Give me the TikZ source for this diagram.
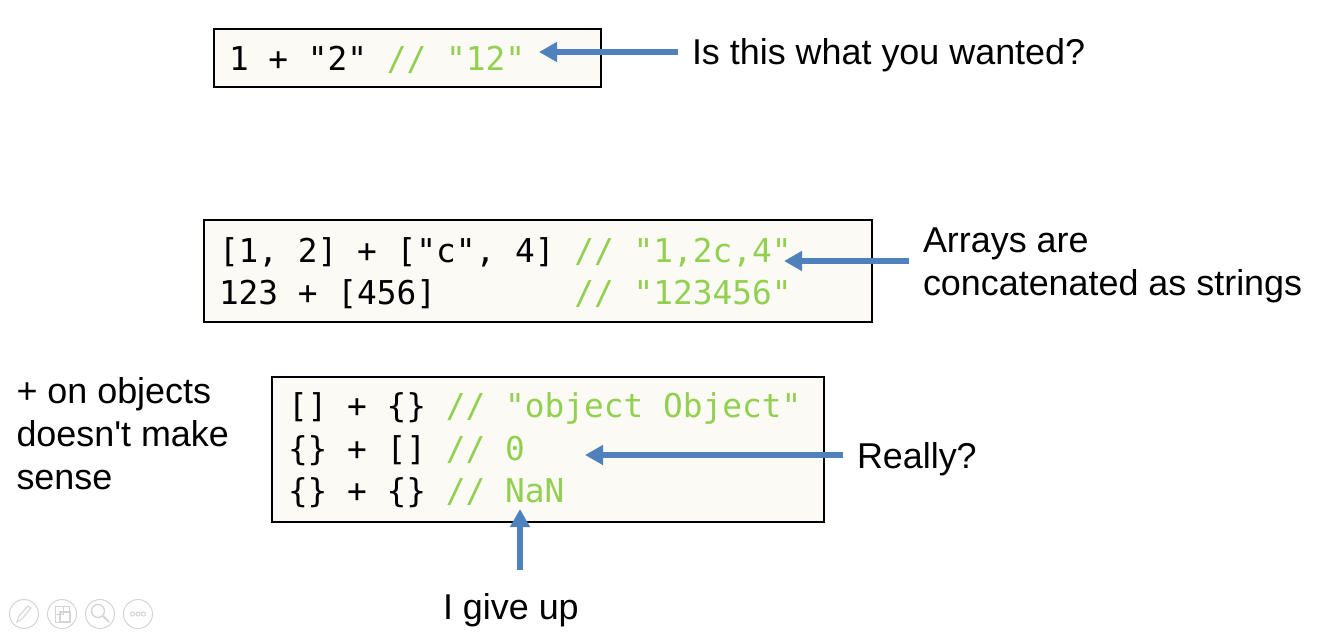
\documentclass[tikz,border=0pt]{standalone}
\usepackage{fontspec}
\setmainfont{Liberation Sans}
\newfontfamily\codefont{DejaVu Sans Mono}
\usetikzlibrary{arrows.meta}
\definecolor{boxfill}{HTML}{FBFAF5}
\definecolor{arrowblue}{HTML}{4F81BD}
\definecolor{commentgreen}{HTML}{92D050}
\definecolor{icongray}{HTML}{D4D4D4}
\newcommand{\cmt}[1]{\textcolor{commentgreen}{#1}}
\tikzset{
 x=1pt,y=-1pt,
 codebox/.style={draw=black,line width=2pt,fill=boxfill,rectangle,minimum width=0pt},
 codeline/.style={anchor=base west,inner sep=0pt,outer sep=0pt,font=\codefont\fontsize{32.8}{42}\selectfont},
 saying/.style={anchor=base west,inner sep=0pt,outer sep=0pt,font=\fontsize{35.9}{43}\selectfont},
 pointer/.style={draw=arrowblue,line width=5.5pt,-{Triangle[length=18pt,width=19pt]}},
 iconring/.style={draw=icongray,line width=1pt,fill=white},
 iconmark/.style={draw=icongray,line width=1pt},
}
\begin{document}
\begin{tikzpicture}
\useasboundingbox (0,0) rectangle (1320,632);
% boxes
\draw[codebox] (214,29) rectangle (601,87);
\draw[codebox] (204,220) rectangle (872,322);
\draw[codebox] (272,377) rectangle (824,522);
% code
\node[codeline] (c1) at (229,70) {1 + "2" \cmt{// "12"}};
\node[codeline] (c2) at (219,262) {[1, 2] + ["c", 4] \cmt{// "1,2c,4"}};
\node[codeline] (c3) at (219,304) {123 + [456]~~~~~~~\cmt{// "123456"}};
\node[codeline] (c4) at (288,417) {[] + \{\} \cmt{// "object Object"}};
\node[codeline] (c5) at (288,460) {\{\} + [] \cmt{// 0}};
\node[codeline] (c6) at (288,502) {\{\} + \{\} \cmt{// NaN}};
% labels
\node[saying] (l1) at (692,64) {Is this what you wanted?};
\node[saying] (l2a) at (923,252) {Arrays are};
\node[saying] (l2b) at (923,295) {concatenated as strings};
\node[saying] (l3) at (857,468) {Really?};
\node[saying] (l4) at (443,619) {I give up};
\node[saying] (l5a) at (16.5,403) {+ on objects};
\node[saying] (l5b) at (16.5,446) {doesn\textquotesingle t make};
\node[saying] (l5c) at (16.5,489) {sense};
% arrows
\coordinate (t1) at (539,52);
\coordinate (s1) at (678,52);
\coordinate (t2) at (784,261);
\coordinate (s2) at (909,261);
\coordinate (t3) at (585,455);
\coordinate (s3) at (843,455);
\coordinate (t4) at (520,509);
\coordinate (s4) at (520,570);
\draw[pointer] (s1) -- (t1);
\draw[pointer] (s2) -- (t2);
\draw[pointer] (s3) -- (t3);
\draw[pointer] (s4) -- (t4);
% presenter toolbar icons
\draw[iconring] (24,614) circle (14.5);
\draw[iconmark] (17,622) -- (19,616) -- (28,606) -- (31,608) -- (22,619) -- cycle;
\draw[iconring] (62,614) circle (14.5);
\draw[iconmark] (55,606) rectangle (63,614);
\draw[iconmark] (63,606) rectangle (69,612);
\draw[iconmark] (55,614) rectangle (60,622);
\draw[iconmark,line width=1.6pt] (60,612) rectangle (70,622);
\draw[iconring] (100,614) circle (14.5);
\draw[iconmark,line width=1.3pt] (98,611) circle (6.5);
\draw[iconmark,line width=2pt] (103,616) -- (109,622);
\draw[iconring] (138,614) circle (14.5);
\draw[iconmark] (132.5,614) circle (2);
\draw[iconmark] (138,614) circle (2);
\draw[iconmark] (143.5,614) circle (2);
\end{tikzpicture}
\end{document}
